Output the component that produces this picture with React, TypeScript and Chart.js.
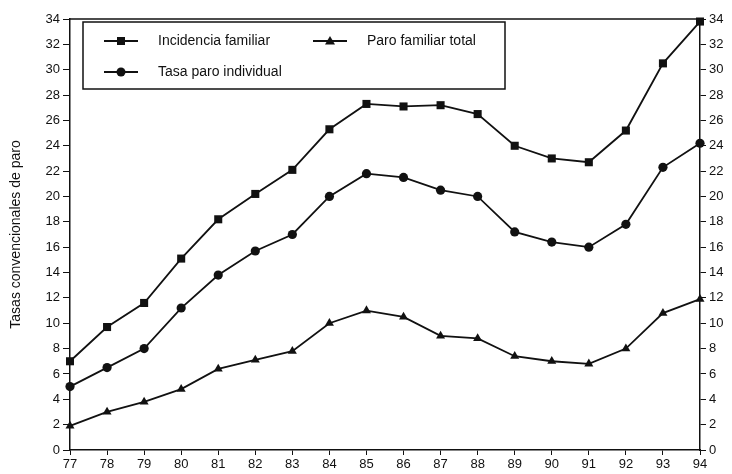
import React, { useEffect, useRef } from 'react';
import { Chart, registerables } from 'chart.js';

Chart.register(...registerables);

const years = ['77', '78', '79', '80', '81', '82', '83', '84', '85', '86', '87', '88', '89', '90', '91', '92', '93', '94'];
const incidenciaFamiliar = [7.0, 9.7, 11.6, 15.1, 18.2, 20.2, 22.1, 25.3, 27.3, 27.1, 27.2, 26.5, 24.0, 23.0, 22.7, 25.2, 30.5, 33.8];
const paroFamiliarTotal = [1.9, 3.0, 3.8, 4.8, 6.4, 7.1, 7.8, 10.0, 11.0, 10.5, 9.0, 8.8, 7.4, 7.0, 6.8, 8.0, 10.8, 11.9];
const tasaParoIndividual = [5.0, 6.5, 8.0, 11.2, 13.8, 15.7, 17.0, 20.0, 21.8, 21.5, 20.5, 20.0, 17.2, 16.4, 16.0, 17.8, 22.3, 24.2];
const seriesLabels = ['Incidencia familiar', 'Paro familiar total', 'Tasa paro individual'];
const yAxisTitle = 'Tasas convencionales de paro';

const FONT = '"Liberation Sans", Arial, Helvetica, sans-serif';
const INK = '#111';

function drawMarker(ctx: CanvasRenderingContext2D, style: string, x: number, y: number) {
  ctx.beginPath();
  if (style === 'rect') {
    ctx.rect(x - 4, y - 4, 8, 8);
  } else if (style === 'triangle') {
    ctx.moveTo(x, y - 5);
    ctx.lineTo(x + 5, y + 3.5);
    ctx.lineTo(x - 5, y + 3.5);
    ctx.closePath();
  } else {
    ctx.arc(x, y, 4.5, 0, Math.PI * 2);
  }
  ctx.fill();
}

const boxLegendPlugin = {
  id: 'boxLegend',
  afterDraw(chart: any) {
    const ctx: CanvasRenderingContext2D = chart.ctx;
    const area = chart.chartArea;
    ctx.save();
    // top frame line
    ctx.strokeStyle = INK;
    ctx.lineWidth = 1.5;
    ctx.beginPath();
    ctx.moveTo(area.left, area.top);
    ctx.lineTo(area.right, area.top);
    ctx.stroke();
    // legend box
    const bx = 83, by = 22, bw = 422, bh = 67;
    ctx.fillStyle = '#fff';
    ctx.fillRect(bx, by, bw, bh);
    ctx.lineWidth = 1.5;
    ctx.strokeRect(bx, by, bw, bh);
    const slots = [
      { x: 104, y: 41 },
      { x: 313, y: 41 },
      { x: 104, y: 72 },
    ];
    chart.data.datasets.forEach((ds: any, i: number) => {
      const s = slots[i];
      ctx.strokeStyle = INK;
      ctx.fillStyle = INK;
      ctx.lineWidth = 1.8;
      ctx.beginPath();
      ctx.moveTo(s.x, s.y);
      ctx.lineTo(s.x + 34, s.y);
      ctx.stroke();
      drawMarker(ctx, ds.pointStyle, s.x + 17, s.y);
      ctx.font = `14px ${FONT}`;
      ctx.textBaseline = 'middle';
      ctx.textAlign = 'left';
      ctx.fillText(ds.label, s.x + 54, s.y);
    });
    ctx.restore();
  },
};

export default function App() {
  const canvasRef = useRef<HTMLCanvasElement | null>(null);

  useEffect(() => {
    if (!canvasRef.current) return;
    const mk = (label: string, data: number[], pointStyle: string, radius: number) => ({
      label,
      data,
      borderColor: INK,
      backgroundColor: INK,
      borderWidth: 1.8,
      pointStyle,
      pointRadius: radius,
      pointBorderWidth: 0,
      pointBackgroundColor: INK,
      tension: 0,
      clip: false as any,
    });
    const chart = new Chart(canvasRef.current, {
      type: 'line',
      data: {
        labels: years,
        datasets: [
          mk(seriesLabels[0], incidenciaFamiliar, 'rect', 5.7),
          mk(seriesLabels[1], paroFamiliarTotal, 'triangle', 5.2),
          mk(seriesLabels[2], tasaParoIndividual, 'circle', 4.6),
        ],
      },
      options: {
        animation: false,
        responsive: true,
        maintainAspectRatio: false,
        layout: { padding: { top: 19, left: 0, right: 0, bottom: 0 } },
        plugins: { legend: { display: false }, tooltip: { enabled: false } },
        scales: {
          x: {
            type: 'category',
            offset: false,
            grid: { drawOnChartArea: false, drawTicks: true, tickLength: 5, color: INK },
            border: { display: true, color: INK, width: 1.5 },
            ticks: { color: INK, font: { family: FONT, size: 13 }, padding: 2, maxRotation: 0, autoSkip: false },
            afterFit: (s: any) => { s.height = 24; },
          },
          y: {
            position: 'left',
            min: 0,
            max: 34,
            ticks: { stepSize: 2, color: INK, font: { family: FONT, size: 13 }, padding: 3 },
            grid: { drawOnChartArea: false, drawTicks: true, tickLength: 7, color: INK },
            border: { display: true, color: INK, width: 1.5 },
            title: { display: true, text: yAxisTitle, color: INK, font: { family: FONT, size: 14 }, padding: { top: 8, bottom: 0 } },
            afterFit: (s: any) => { s.width = 70; },
          },
          y1: {
            position: 'right',
            min: 0,
            max: 34,
            ticks: { stepSize: 2, color: INK, font: { family: FONT, size: 13 }, padding: 3 },
            grid: { drawOnChartArea: false, drawTicks: true, tickLength: 6, color: INK },
            border: { display: true, color: INK, width: 1.5 },
            afterFit: (s: any) => { s.width = 32; },
          },
        },
      },
      plugins: [boxLegendPlugin],
    });
    return () => chart.destroy();
  }, []);

  return (
    <div style={{ position: 'absolute', left: 0, top: 0, width: 732, height: 474, background: '#fff' }}>
      <canvas ref={canvasRef} />
    </div>
  );
}
